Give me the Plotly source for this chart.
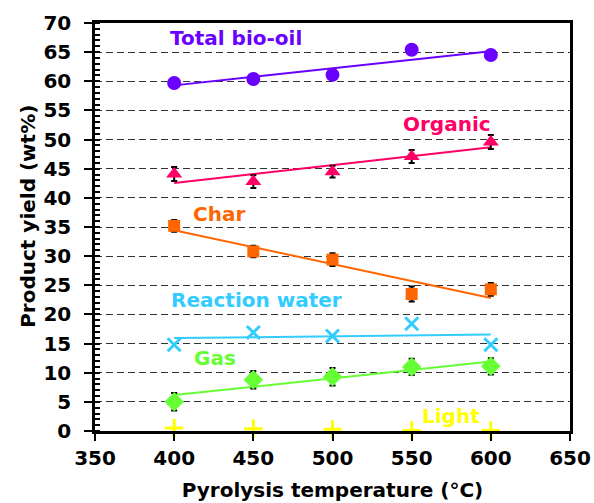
import numpy as np
import plotly.graph_objects as go

temps = [400, 450, 500, 550, 600]
total_bio_oil = [59.7, 60.4, 61.1, 65.4, 64.5]
organic = [44.1, 42.8, 44.5, 47.1, 49.6]
organic_err = [1.2, 1.1, 1.0, 1.1, 1.2]
char = [35.2, 30.8, 29.4, 23.5, 24.3]
char_err = [1.0, 1.0, 1.1, 1.3, 1.1]
reaction_water = [14.8, 16.9, 16.3, 18.4, 14.8]
gas = [5.0, 8.8, 9.3, 11.0, 11.1]
gas_err = [1.5, 1.5, 1.5, 1.4, 1.4]
light = [0.5, 0.4, 0.3, 0.1, 0.1]

x_ticks = [350, 400, 450, 500, 550, 600, 650]
y_ticks = list(range(0, 75, 5))

FONT = "DejaVu Sans"

series = [
    dict(name="Total bio-oil", y=total_bio_oil, err=None, color="#6A00FF", symbol="circle", size=14, label_xy=(439, 67.4)),
    dict(name="Organic", y=organic, err=organic_err, color="#FF0066", symbol="triangle-up", size=14, label_xy=(572, 52.7)),
    dict(name="Char", y=char, err=char_err, color="#FF6600", symbol="square", size=12, label_xy=(428, 37.2)),
    dict(name="Reaction water", y=reaction_water, err=None, color="#33CCFF", symbol="x-thin", size=13, label_xy=(452, 22.5)),
    dict(name="Gas", y=gas, err=gas_err, color="#66FF33", symbol="diamond", size=15, label_xy=(426, 12.5)),
    dict(name="Light", y=light, err=None, color="#FFFF00", symbol="cross-thin", size=13, label_xy=(575, 2.6)),
]

fig = go.Figure()
annotations = []
for s in series:
    slope, intercept = np.polyfit(temps, s["y"], 1)
    if s["name"] != "Light":
        xs = [temps[0], temps[-1]]
        fig.add_trace(go.Scatter(
            x=xs, y=[slope * v + intercept for v in xs], mode="lines",
            line=dict(color=s["color"], width=2), showlegend=False, hoverinfo="skip"))
    thin = s["symbol"].endswith("thin")
    marker = dict(color=s["color"], symbol=s["symbol"], size=s["size"],
                  line=dict(color=s["color"], width=3 if thin else 0))
    err = None
    if s["err"] is not None:
        err = dict(type="data", array=s["err"], visible=True, color="black", thickness=2, width=3)
    fig.add_trace(go.Scatter(x=temps, y=s["y"], mode="markers", marker=marker,
                             error_y=err, name=s["name"], showlegend=False,
                             cliponaxis=False))
    annotations.append(dict(x=s["label_xy"][0], y=s["label_xy"][1], text=s["name"],
                            showarrow=False, xanchor="center", yanchor="middle",
                            font=dict(family=FONT, size=20, weight="bold", color=s["color"])))

# y-axis title as a rotated annotation (sits slightly above the plot centre)
annotations.append(dict(x=-0.141, y=0.525, xref="paper", yref="paper", text="Product yield (wt%)",
                        textangle=-90, showarrow=False, xanchor="center", yanchor="middle",
                        font=dict(family=FONT, size=20, weight="bold", color="black")))

fig.update_layout(
    width=594, height=503,
    margin=dict(l=95, r=24, t=23, b=72),
    paper_bgcolor="white", plot_bgcolor="white",
    font=dict(family=FONT, size=20, color="black", weight="bold"),
    annotations=annotations,
    showlegend=False,
)
fig.update_xaxes(
    range=[350, 650], tickvals=x_ticks, ticktext=[str(v) for v in x_ticks],
    showgrid=False, zeroline=False, automargin=False,
    showline=True, linecolor="black", linewidth=2.5, mirror=True,
    ticks="outside", ticklen=7, tickwidth=2, tickcolor="black",
    tickfont=dict(family=FONT, size=20, weight="bold"),
    title=dict(text="Pyrolysis temperature (°C)", font=dict(family=FONT, size=20, weight="bold"), standoff=15),
)
fig.update_yaxes(
    range=[0, 70], tickvals=y_ticks, ticktext=[str(v) for v in y_ticks],
    showgrid=True, gridcolor="#333333", gridwidth=1.4, griddash="7px,4px",
    zeroline=False, automargin=False,
    showline=True, linecolor="black", linewidth=2.5, mirror=True,
    ticks="outside", ticklen=8, tickwidth=2, tickcolor="black",
    ticklabelstandoff=9,
    minor=dict(dtick=1, ticks="inside", ticklen=5, tickwidth=1.5, tickcolor="black", showgrid=False),
    tickfont=dict(family=FONT, size=20, weight="bold"),
)

fig.write_html(
    "out.html",
    config={"displayModeBar": False},
    post_script="document.body.style.margin='0';document.body.style.overflow='hidden';",
)
